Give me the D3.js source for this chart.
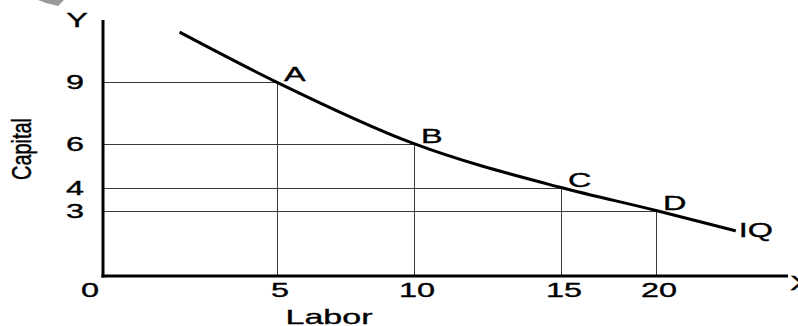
<!DOCTYPE html>
<html>
<head>
<meta charset="utf-8">
<script src="https://cdn.jsdelivr.net/npm/d3@7"></script>
<style>
  body { margin: 0; background: #fff; }
  text { font-family: "Liberation Sans", Arial, sans-serif; fill: #000; stroke: #000; stroke-width: 0.35px; }
</style>
</head>
<body>
<svg width="798" height="326"></svg>
<script>
// Data
const labor = [5, 10, 15, 20];
const capital = [9, 6, 4, 3];
const pointLabels = ["A", "B", "C", "D"];
const xTicks = [0, 5, 10, 15, 20];
const yTicks = [3, 4, 6, 9];
// isoquant curve (labor, capital)
const iqLabor = [2.2, 5, 10, 15, 20, 24.2];
const iqCapital = [11.45, 9, 6, 4, 3, 2.07];

const svg = d3.select("svg");
const stretch = 1.62; // text in the picture is drawn wide

// The reference axes are not evenly spaced, so piecewise scales
const x = d3.scaleLinear().domain([0, 5, 10, 15, 20]).range([103, 277, 414, 561, 656]);
const y = d3.scaleLinear().domain([0, 3, 4, 6, 9]).range([276, 210.5, 187.5, 143.7, 82.3]);
const crisp = (v) => Math.round(v) + 0.5;

function label(px, py, str, size, anchor) {
  return svg.append("text")
    .attr("transform", `translate(${px},${py}) scale(${stretch},1)`)
    .attr("text-anchor", anchor || "middle")
    .style("font-size", size + "px")
    .text(str);
}

// small grey watermark corner
svg.append("polygon")
  .attr("points", "38,0 64,0 58,6 46,3")
  .attr("fill", "#999");

// guide lines to each point
const pts = labor.map((l, i) => ({ l: l, k: capital[i], name: pointLabels[i] }));
svg.selectAll(".hguide")
  .data(pts)
  .enter()
  .append("line")
  .attr("x1", x(0))
  .attr("x2", (d) => x(d.l))
  .attr("y1", (d) => crisp(y(d.k)))
  .attr("y2", (d) => crisp(y(d.k)))
  .attr("stroke", "#3a3a3a")
  .attr("stroke-width", 1);
svg.selectAll(".vguide")
  .data(pts)
  .enter()
  .append("line")
  .attr("x1", (d) => crisp(x(d.l)))
  .attr("x2", (d) => crisp(x(d.l)))
  .attr("y1", (d) => y(d.k))
  .attr("y2", y(0))
  .attr("stroke", "#3a3a3a")
  .attr("stroke-width", 1);

// axes
svg.append("line")
  .attr("x1", x(0)).attr("x2", x(0))
  .attr("y1", 20).attr("y2", y(0) + 1.5)
  .attr("stroke", "#000").attr("stroke-width", 3);
svg.append("line")
  .attr("x1", x(0) - 1.5).attr("x2", 788)
  .attr("y1", y(0)).attr("y2", y(0))
  .attr("stroke", "#000").attr("stroke-width", 3);

// isoquant
const curve = iqLabor.map((l, i) => [x(l), y(iqCapital[i])]);
svg.append("path")
  .datum(curve)
  .attr("fill", "none")
  .attr("stroke", "#000")
  .attr("stroke-width", 3)
  .attr("d", d3.line().curve(d3.curveMonotoneX));

// point labels
pts.forEach((d) => label(x(d.l) + 7, y(d.k) - 1, d.name, 20, "start"));
label(x(iqLabor[iqLabor.length - 1]) + 3, y(iqCapital[iqCapital.length - 1]) + 6.5, "IQ", 20, "start");

// tick labels
yTicks.forEach((v) => label(84, y(v) + 7, v, 20, "end"));
xTicks.forEach((v) => {
  const px = v === 0 ? x(0) - 13 : x(v) + 3;
  label(px, 297, v, 20, "middle");
});

// axis titles
label(77, 27, "Y", 20);
label(790, 290, "X", 20, "start");
label(329, 324, "Labor", 21);
svg.append("text")
  .attr("transform", "translate(31,149) scale(1.35,1) rotate(-90)")
  .attr("text-anchor", "middle")
  .attr("textLength", 62)
  .attr("lengthAdjust", "spacingAndGlyphs")
  .style("font-size", "21px")
  .text("Capital");
</script>
</body>
</html>
